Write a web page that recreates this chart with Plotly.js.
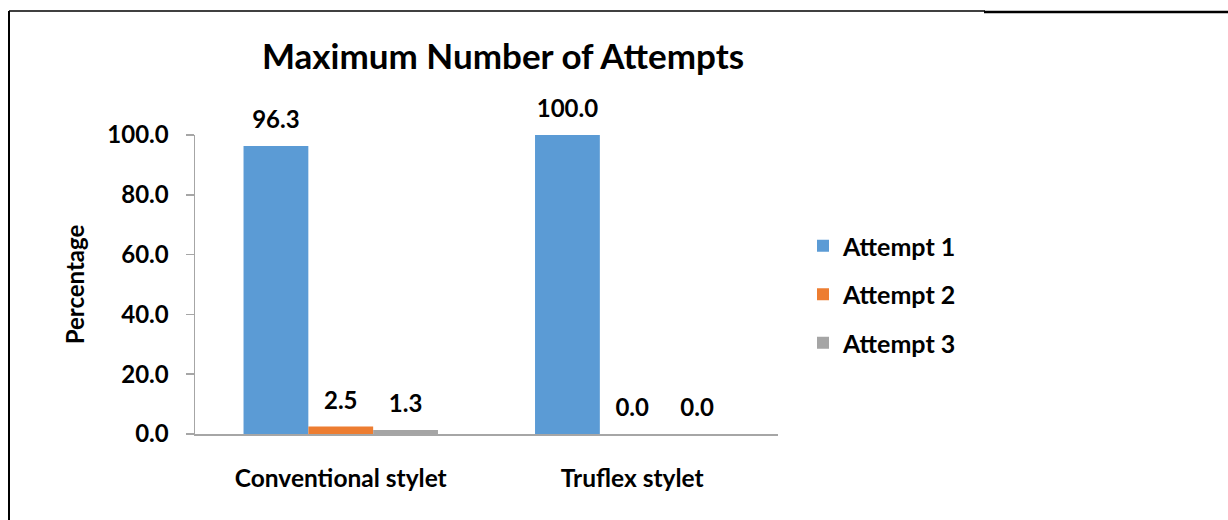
<!DOCTYPE html>
<html>
<head>
<meta charset="utf-8">
<script src="https://cdn.plot.ly/plotly-3.0.1.min.js"></script>
<style>
  html, body { margin: 0; padding: 0; background: #fff; }
  #chart { width: 1228px; height: 520px; }
</style>
</head>
<body>
<div id="chart"></div>
<script>
const categories = ["Conventional stylet", "Truflex stylet"];
const seriesNames = ["Attempt 1", "Attempt 2", "Attempt 3"];
const attempt1 = [96.3, 100.0];
const attempt2 = [2.5, 0.0];
const attempt3 = [1.3, 0.0];
const yTickVals = [0, 20, 40, 60, 80, 100];
const yTickText = ["0.0", "20.0", "40.0", "60.0", "80.0", "100.0"];

const colors = ["#5B9BD5", "#ED7D31", "#A5A5A5"];
const FONT = "Lato, 'Open Sans', sans-serif";
const allSeries = [attempt1, attempt2, attempt3];

const traces = allSeries.map((vals, i) => ({
  type: "bar",
  name: "<b>" + seriesNames[i] + "</b>",
  x: categories,
  y: vals,
  marker: { color: colors[i] },
  legendgroup: "g" + i,
  text: vals.map(v => v.toFixed(1)),
  texttemplate: "<span style='font-size:24px'><b>%{text}</b></span><br>\u00a0",
  textposition: "outside",
  constraintext: "none",
  cliponaxis: false,
  textfont: { family: FONT, size: 10, color: "#000" },
  hoverinfo: "skip"
}));

const L = 195, R = 778, T = 135, B = 434;
const W = 1228, H = 520;
const px = x => (x - L) / (R - L);
const py = y => (B - y) / (B - T);

const layout = {
  width: W, height: H,
  margin: { l: L, r: W - R, t: T, b: H - B, pad: 0 },
  paper_bgcolor: "#fff",
  plot_bgcolor: "#fff",
  barmode: "group",
  bargap: 0.333,
  bargroupgap: 0,
  font: { family: FONT, color: "#000" },
  title: {
    text: "<b>Maximum Number of Attempts</b>",
    font: { family: FONT, size: 35, color: "#000" },
    x: 503 / W, xref: "container", xanchor: "center",
    y: 1 - 57 / H, yref: "container", yanchor: "middle"
  },
  xaxis: {
    type: "category",
    showline: true, linecolor: "#A6A6A6", linewidth: 1.5,
    ticks: "", showgrid: false, zeroline: false,
    tickfont: { family: FONT, size: 24.5, color: "#000" },
    tickprefix: "<b>", ticksuffix: "</b>",
    ticklabelstandoff: 22
  },
  yaxis: {
    range: [0, 100],
    tickvals: yTickVals,
    ticktext: yTickText.map(t => "<b>" + t + "</b>"),
    showline: true, linecolor: "#A6A6A6", linewidth: 1.5,
    ticks: "outside", ticklen: 8, tickcolor: "#A6A6A6", tickwidth: 1.5,
    showgrid: false, zeroline: false,
    tickfont: { family: FONT, size: 24, color: "#000" },
    ticklabelstandoff: 12,
    title: {
      text: "<b>Percentage</b>",
      font: { family: FONT, size: 24, color: "#000" },
      standoff: 16
    }
  },
  legend: {
    xref: "container", yref: "container",
    x: 803 / W, y: 1 - 223 / H, xanchor: "left", yanchor: "top",
    font: { family: FONT, size: 25, color: "#000" },
    traceorder: "grouped",
    tracegroupgap: 13,
    bgcolor: "rgba(0,0,0,0)"
  },
  shapes: [
    { type: "line", xref: "paper", yref: "paper", x0: px(9), x1: px(9), y0: py(11), y1: py(525), line: { color: "#000", width: 2 } },
    { type: "line", xref: "paper", yref: "paper", x0: px(9), x1: px(985), y0: py(11), y1: py(11), line: { color: "#000", width: 1.5 } },
    { type: "line", xref: "paper", yref: "paper", x0: px(984), x1: px(1230), y0: py(12), y1: py(12), line: { color: "#000", width: 2.5 } }
  ],
  showlegend: true
};

Plotly.newPlot("chart", traces, layout, { displayModeBar: false, staticPlot: true });
</script>
</body>
</html>
